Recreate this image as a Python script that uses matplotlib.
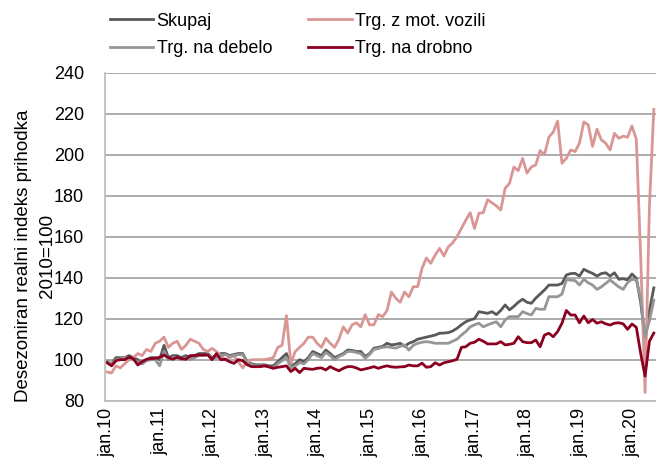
import matplotlib
matplotlib.use("Agg")
import matplotlib.pyplot as plt
import numpy as np

# monthly index values, jan.10 .. jun.20
skupaj = [
    99, 98, 101, 101, 101, 102, 101, 100, 98, 100, 101, 101,
    100, 107, 101, 102, 102, 101, 102, 101, 102, 103, 103, 103,
    101, 102, 103, 103, 102, 102.5, 103, 103, 99, 98, 97.5, 97.5,
    97.5, 97, 97, 99, 101, 103, 97, 98, 100, 99, 101, 104,
    103, 102, 104.7, 103, 101, 102, 103, 104.7, 104.5, 104, 104, 101.5,
    103, 105.6, 106, 106.5, 108, 107.2, 107.5, 108, 106.5, 108, 108.8, 110,
    110.5, 111, 111.5, 112, 112.9, 113, 113.2, 114, 115.3, 117, 118.5, 119.4,
    120, 123.4, 123, 122.6, 123.4, 122, 124, 126.7, 124.3, 126, 128, 129.5,
    128, 127.5, 130, 132, 134, 136.4, 136.4, 136.4, 137.2, 141.3, 142, 142.1,
    140.8, 144.1, 143, 142.1, 140.8, 142, 142.4, 140.8, 142.4, 139.2, 139.5, 138.9,
    141.8, 139.7, 128, 110, 124, 135,
]
mot_vozila = [
    94, 93.5, 97, 96, 98, 100, 101, 103, 102, 105, 104, 108,
    109, 111, 106, 108, 109, 105, 107, 110, 109, 108, 105, 104,
    105.5, 104, 102, 100, 101, 102, 99, 96, 99, 100, 100, 100,
    100, 100.5, 101, 106, 107, 121.5, 98, 104, 106, 108, 111, 111,
    108, 106, 110.5, 108, 106, 110, 116, 113, 117, 118, 116, 122,
    117, 117, 122, 121, 124, 133, 130, 128, 133, 130.7, 135.6, 135.6,
    144.6, 149.6, 147, 151, 154.3, 150.6, 155, 157, 160, 164, 168, 171.7,
    164, 171.4, 171.7, 178, 176.5, 175, 173, 183.6, 186, 194, 192.2, 198.2,
    191, 194, 195, 202, 200, 208.5, 211, 216.4, 195.8, 198.2, 202.3, 201.5,
    205.6, 216, 214.5, 204, 212.4, 207.2, 205.6, 202.3, 210.4, 208, 209, 208.5,
    214, 207.5, 150, 84, 175, 222,
]
debelo = [
    99, 98, 100, 100.5, 101, 101, 100, 99, 98, 99.5, 100, 100,
    97, 104, 100, 101, 101, 100, 101, 100, 101, 102, 102, 102.5,
    100.5, 101, 102, 102.5, 101.5, 102, 102.5, 102.5, 98.5, 97.5, 97, 97,
    97, 96.5, 96, 98, 99.5, 101, 96, 97, 98.5, 98, 100, 103,
    102, 101, 103.5, 102, 100, 101.5, 102.5, 104, 104, 103.5, 103, 100.7,
    102.5, 105, 105.5, 106, 106.3, 106, 105.6, 106.5, 107.2, 104.7, 107, 108,
    108.5, 108.8, 108.5, 108, 108, 108, 108, 109, 110, 112, 113.7, 116,
    117, 117.8, 116, 117, 117.8, 118.5, 116, 119.4, 121, 121, 121, 123.4,
    122.5, 121.8, 125, 124.6, 124.6, 130.7, 130.7, 130.7, 132, 139, 138.8, 138.6,
    136.4, 139.2, 137.5, 136.4, 134.3, 135.5, 137.2, 138.9, 137.2, 135.5, 134.3, 137.6,
    139.2, 138.9, 130, 111, 119, 129,
]
drobno = [
    98.5, 97, 99.5, 100, 100, 101.2, 100.5, 97.4, 99, 100.2, 100.5, 100.7,
    101.2, 102.3, 101, 100.2, 101.2, 100.5, 100.2, 102, 102, 102.3, 102.3, 102.3,
    100, 103, 100, 100.2, 99, 98.2, 100, 99.5, 97.6, 96.6, 96.6, 96.6,
    97, 96.5, 95.8, 96.3, 96.6, 97, 94.2, 95.8, 93.7, 95.8, 95.5, 95.3,
    95.8, 96, 95, 96.6, 95.5, 94.6, 95.8, 96.6, 96.6, 96, 95, 95.5,
    96, 96.6, 95.8, 96.5, 97, 96.5, 96.3, 96.5, 96.6, 97.4, 97, 97,
    98.3, 96.3, 96.6, 98.5, 97.4, 98.5, 99, 99.5, 100.2, 106, 106.3, 108,
    108.5, 110, 109, 107.7, 107.7, 107.7, 108.8, 107.2, 107.5, 108, 111.2, 108.8,
    108.3, 108.3, 109.6, 106.3, 112, 112.9, 111.2, 113.7, 117.8, 124, 121.8, 121.8,
    118, 121.3, 118, 119.6, 117.8, 118.5, 117.5, 116.9, 117.8, 118, 117.5, 114.8,
    117.4, 115.8, 103, 92, 109, 113,
]
tick_labels = ["jan.%02d" % y for y in range(10, 21)]

plt.rcParams['font.family'] = ['Liberation Sans Narrow', 'Liberation Sans', 'DejaVu Sans']

fig = plt.figure(figsize=(6.56, 4.68), dpi=100)
ax = fig.add_axes([0.160, 0.1438, 0.840, 0.701])

x = np.arange(len(skupaj))
l1, = ax.plot(x, skupaj, color="#595959", lw=2.0, label="Skupaj")
l2, = ax.plot(x, mot_vozila, color="#d99694", lw=2.0, label="Trg. z mot. vozili")
l3, = ax.plot(x, debelo, color="#969696", lw=2.0, label="Trg. na debelo")
l4, = ax.plot(x, drobno, color="#8b0020", lw=2.0, label="Trg. na drobno")

ax.set_xlim(-0.5, len(skupaj) - 0.5)
ax.set_ylim(80, 240)
ax.set_yticks(np.arange(80, 241, 20))
ax.set_xticks(np.arange(0, len(skupaj), 12))
ax.set_xticklabels(tick_labels, rotation=90)

ax.grid(axis='y', color="#a6a6a6", lw=1.3)
ax.set_axisbelow(True)
for s in ['top', 'right']:
    ax.spines[s].set_visible(False)
ax.spines['left'].set_color("#bfbfbf")
ax.spines['bottom'].set_color("#bfbfbf")
ax.spines['left'].set_linewidth(1.3)
ax.spines['bottom'].set_linewidth(1.3)
ax.tick_params(axis='y', length=0, labelsize=13, pad=15, colors="black")
ax.tick_params(axis='x', length=0, labelsize=13, pad=5, colors="black")

# y label placed by hand, it sits lower than the axes centre
fig.text(0.054, 0.453, "Desezoniran realni indeks prihodka\n2010=100",
         rotation=90, ha='center', va='center', multialignment='center',
         fontsize=13.5, linespacing=1.55)

fig.legend(handles=[l1, l3, l2, l4], ncol=2, loc='upper left',
           bbox_to_anchor=(0.148, 1.0), frameon=False, fontsize=13,
           handlelength=2.4, handletextpad=0.2, columnspacing=2.0,
           labelspacing=0.6, borderaxespad=0.3)

fig.savefig("out.png", dpi=100)
